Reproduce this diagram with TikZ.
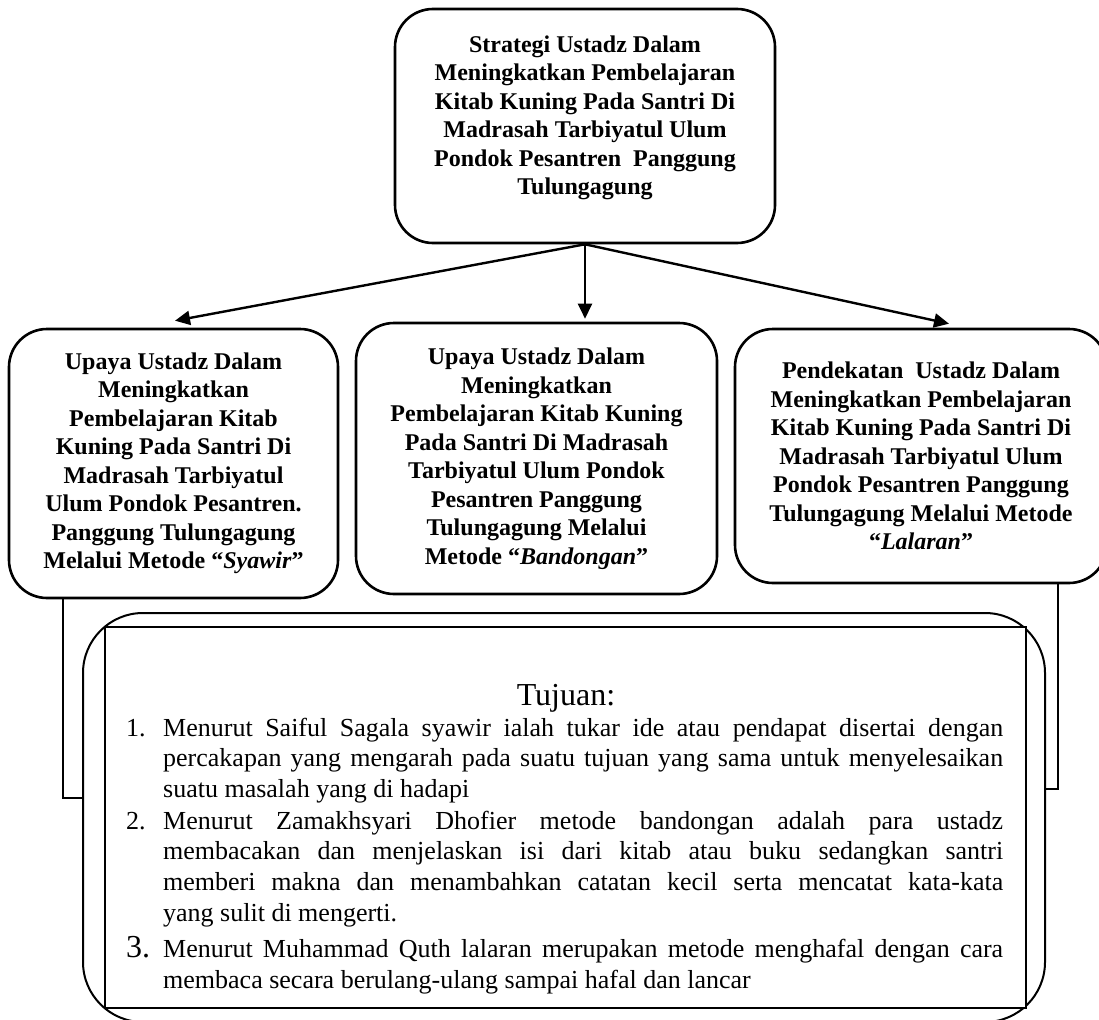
\documentclass[tikz,border=0pt]{standalone}
\usepackage{fontspec}
\setmainfont{Liberation Serif}
\usetikzlibrary{arrows.meta}

\newcommand{\butir}[2]{\hangindent=37pt\hangafter=1\noindent\makebox[37pt][l]{#1}#2\par}

\begin{document}
\begin{tikzpicture}[
		x=1pt,y=-1pt,
		>={Triangle[length=15pt,width=14pt]},
		kotak/.style={draw,rounded corners=38pt,line width=2.6pt,inner sep=0pt,align=center,font=\fontsize{24}{28.5}\selectfont\bfseries},
		bingkai/.style={draw,line width=2pt,inner sep=0pt}
		]
		\useasboundingbox (0,0) rectangle (1099,1019);
		\node[kotak,minimum width=380pt,minimum height=234pt](atas) at (585,126){Strategi Ustadz Dalam\\Meningkatkan Pembelajaran\\Kitab Kuning Pada Santri Di\\Madrasah Tarbiyatul Ulum\\Pondok Pesantren\ \ Panggung\\Tulungagung\rule[-22pt]{0pt}{0pt}};
		\node[kotak,minimum width=329pt,minimum height=269pt](kiri) at (173.5,463.5){Upaya Ustadz Dalam\\Meningkatkan\\Pembelajaran Kitab\\Kuning Pada Santri Di\\Madrasah Tarbiyatul\\Ulum Pondok Pesantren.\\Panggung Tulungagung\\Melalui Metode “\textit{Syawir}”};
		\node[kotak,minimum width=361pt,minimum height=271pt](tengah) at (536.5,458.5){Upaya Ustadz Dalam\\Meningkatkan\\Pembelajaran Kitab Kuning\\Pada Santri Di Madrasah\\Tarbiyatul Ulum Pondok\\Pesantren Panggung\\Tulungagung Melalui\\Metode “\textit{Bandongan}”};
		\node[kotak,minimum width=372pt,minimum height=254pt](kanan) at (921,456){Pendekatan\ \ Ustadz Dalam\\Meningkatkan Pembelajaran\\Kitab Kuning Pada Santri Di\\Madrasah Tarbiyatul Ulum\\Pondok Pesantren Panggung\\Tulungagung Melalui Metode\\“\textit{Lalaran}”};
		\path[->,line width=2.4pt]
		(atas.south) edge ([xshift=1.5pt,yshift=7pt]kiri.north)
		(atas.south) edge ([xshift=48.5pt,yshift=3pt]tengah.north)
		(atas.south) edge ([xshift=28pt,yshift=4pt]kanan.north)
		;
		
		\node[bingkai,rounded corners=60pt,minimum width=962pt,minimum height=409pt](tujuan) at (564,817.5){};
		\node[bingkai,fill=white,minimum width=921pt,minimum height=381pt](isi) at (565.5,817.5){};
		\node[anchor=base,font=\fontsize{32}{36}\selectfont](judul) at (566,705){Tujuan:};
		\node[anchor=base west,text width=877pt,align=justify,inner sep=0pt,font=\fontsize{26}{30.7}\selectfont](daftar) at (126,736){\tolerance=10000
			\butir{1.}{Menurut Saiful Sagala syawir ialah tukar ide atau pendapat disertai dengan\linebreak percakapan yang mengarah pada suatu tujuan yang sama untuk menyelesaikan\linebreak suatu masalah yang di hadapi}
			\vspace{1pt}
			\butir{2.}{Menurut Zamakhsyari Dhofier metode bandongan adalah para ustadz\linebreak membacakan dan menjelaskan isi dari kitab atau buku sedangkan santri\linebreak memberi makna dan menambahkan catatan kecil serta mencatat kata-kata\linebreak yang sulit di mengerti.}
			\vspace{6pt}
			\butir{{\fontsize{32}{30}\selectfont 3.}}{Menurut Muhammad Quth lalaran merupakan metode menghafal dengan cara\linebreak membaca secara berulang-ulang sampai hafal dan lancar}};
		
		\draw[line width=2pt] ([xshift=55pt]kiri.south west) |- ([yshift=19.5pt]tujuan.west);
		\draw[line width=2pt] ([xshift=324pt]kanan.south west) |- ([yshift=28.5pt]tujuan.east);
		
		
		\end{tikzpicture}
\end{document}
